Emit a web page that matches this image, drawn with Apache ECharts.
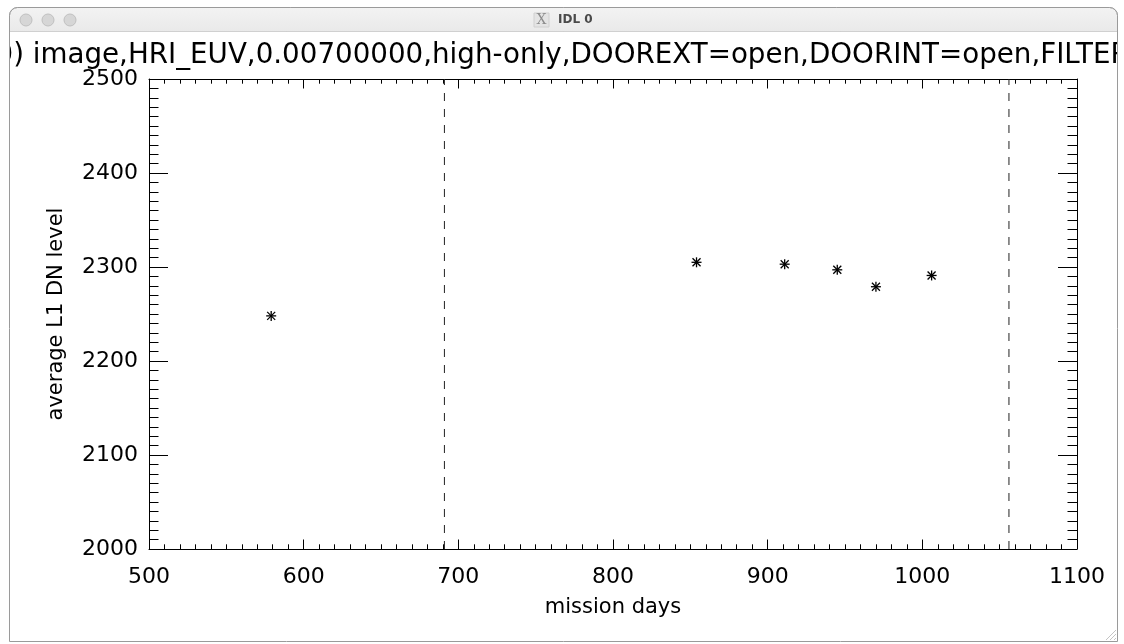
<!DOCTYPE html>
<html>
<head>
<meta charset="utf-8">
<title>IDL 0</title>
<script src="https://cdn.jsdelivr.net/npm/echarts@6/dist/echarts.min.js"></script>
<style>
  html, body { margin: 0; padding: 0; background: #ffffff; }
  #chart { width: 1124px; height: 644px; }
</style>
</head>
<body>
<div id="chart"></div>
<script>
// Mission day of each L1 image and its average DN level
const missionDays = [579, 854, 911, 945, 970, 1006];
const avgDN = [2248, 2305, 2303, 2297, 2279, 2291];

// Dashed reference days
const markerDays = [691, 1056];

// Axis ranges and tick steps
const xRange = [500, 1100];
const xStep = 100;
const yRange = [2000, 2500];
const yStep = 100;

const plotTitle = '0) image,HRI_EUV,0.00700000,high-only,DOOREXT=open,DOORINT=open,FILTER';
const xTitle = 'mission days';
const yTitle = 'average L1 DN level';
const windowTitle = 'IDL 0';

const FONT = '"DejaVu Sans", "Liberation Sans", sans-serif';
const INK = '#000000';

const chart = echarts.init(document.getElementById('chart'), null, { renderer: 'canvas' });

const points = missionDays.map((d, i) => [d, avgDN[i]]);
const plain = v => String(v);

// IDL-style asterisk: a "+" and an "x" overlaid
function renderStar(params, api) {
  const c = api.coord([api.value(0), api.value(1)]);
  const r = 5;
  const d = r * 0.8;
  const st = { stroke: INK, lineWidth: 1.3 };
  const seg = (x1, y1, x2, y2) => ({ type: 'line', shape: { x1, y1, x2, y2 }, style: st });
  return {
    type: 'group',
    children: [
      seg(c[0] - r, c[1], c[0] + r, c[1]),
      seg(c[0], c[1] - r, c[0], c[1] + r),
      seg(c[0] - d, c[1] - d, c[0] + d, c[1] + d),
      seg(c[0] - d, c[1] + d, c[0] + d, c[1] - d)
    ]
  };
}

const baseX = {
  type: 'value', min: xRange[0], max: xRange[1], interval: xStep,
  axisLine: { show: true, onZero: false, lineStyle: { color: INK, width: 1 } },
  axisTick: { show: true, inside: true, length: 9.5, lineStyle: { color: INK, width: 1 } },
  minorTick: { show: true, splitNumber: 10, length: 4.7, lineStyle: { color: INK, width: 1 } },
  splitLine: { show: false }, minorSplitLine: { show: false }
};
const baseY = {
  type: 'value', min: yRange[0], max: yRange[1], interval: yStep,
  axisLine: { show: true, onZero: false, lineStyle: { color: INK, width: 1 } },
  axisTick: { show: true, inside: true, length: 19, lineStyle: { color: INK, width: 1 } },
  minorTick: { show: true, splitNumber: 10, length: 9.5, lineStyle: { color: INK, width: 1 } },
  splitLine: { show: false }, minorSplitLine: { show: false }
};

const option = {
  backgroundColor: '#ffffff',
  animation: false,
  grid: { left: 149, right: 47, top: 79, bottom: 95, containLabel: false },
  xAxis: [
    Object.assign({}, baseX, {
      position: 'bottom',
      name: xTitle, nameLocation: 'middle', nameGap: 48,
      nameTextStyle: { color: INK, fontFamily: FONT, fontSize: 21 },
      axisLabel: { show: true, margin: 17, color: INK, fontFamily: FONT, fontSize: 22, formatter: plain }
    }),
    Object.assign({}, baseX, { position: 'top', axisLabel: { show: false } })
  ],
  yAxis: [
    Object.assign({}, baseY, {
      position: 'left',
      name: yTitle, nameLocation: 'middle', nameGap: 82, nameRotate: 90,
      nameTextStyle: { color: INK, fontFamily: FONT, fontSize: 21 },
      axisLabel: { show: true, margin: 11, color: INK, fontFamily: FONT, fontSize: 22, formatter: plain }
    }),
    Object.assign({}, baseY, { position: 'right', axisLabel: { show: false } })
  ],
  series: [
    ...markerDays.map(d => ({
      type: 'line',
      xAxisIndex: 0, yAxisIndex: 0,
      data: [[d, yRange[0]], [d, yRange[1]]],
      symbol: 'none',
      silent: true,
      lineStyle: { color: '#222222', width: 1, type: [8, 8] },
      z: 2
    })),
    {
      type: 'custom',
      xAxisIndex: 0, yAxisIndex: 0,
      data: points,
      renderItem: renderStar,
      encode: { x: 0, y: 1 },
      z: 3
    }
  ],
  graphic: [
    // plot title, clipped by the window frame
    {
      type: 'text', x: -4.5, y: 70, scaleX: 0.956, z: 10,
      style: { text: plotTitle, fill: INK, font: '29px ' + FONT, textAlign: 'left', textVerticalAlign: 'bottom' }
    },
    // blank margins outside the window frame
    { type: 'rect', shape: { x: 0, y: 0, width: 9, height: 644 }, style: { fill: '#ffffff' }, z: 20 },
    { type: 'rect', shape: { x: 1118, y: 0, width: 6, height: 644 }, style: { fill: '#ffffff' }, z: 20 },
    { type: 'rect', shape: { x: 0, y: 0, width: 1124, height: 8 }, style: { fill: '#ffffff' }, z: 20 },
    // title bar
    {
      type: 'rect', z: 21,
      shape: { x: 9.5, y: 7.5, width: 1108, height: 24, r: [8, 8, 0, 0] },
      style: {
        fill: new echarts.graphic.LinearGradient(0, 0, 0, 1, [
          { offset: 0, color: '#f3f3f3' }, { offset: 1, color: '#e9e9e9' }
        ]),
        stroke: '#b9b9b9', lineWidth: 1
      }
    },
    { type: 'line', z: 22, shape: { x1: 9.5, y1: 31.5, x2: 1117.5, y2: 31.5 }, style: { stroke: '#d0d0d0', lineWidth: 1 } },
    // window buttons
    ...[26, 48, 70].map(cx => ({
      type: 'circle', z: 22, shape: { cx, cy: 20, r: 6 },
      style: { fill: '#d6d6d6', stroke: '#c0c0c0', lineWidth: 1 }
    })),
    // X11 icon and window name
    { type: 'rect', z: 22, shape: { x: 534, y: 13, width: 15, height: 14 }, style: { fill: '#e4e4e4', stroke: '#d0d0d0', lineWidth: 1 } },
    {
      type: 'text', z: 23, x: 541.5, y: 20.5,
      style: { text: 'X', fill: '#8c8c8c', font: '14px "DejaVu Serif", serif', textAlign: 'center', textVerticalAlign: 'middle' }
    },
    {
      type: 'text', z: 23, x: 558, y: 20,
      style: { text: windowTitle, fill: '#4a4a4a', font: 'bold 12px ' + FONT, textAlign: 'left', textVerticalAlign: 'middle' }
    },
    // window frame
    {
      type: 'rect', z: 24,
      shape: { x: 9.5, y: 7.5, width: 1108, height: 634, r: [8, 8, 0, 0] },
      style: { fill: 'none', stroke: '#9a9a9a', lineWidth: 1 }
    },
    // resize grip
    { type: 'line', z: 24, shape: { x1: 1106, y1: 640, x2: 1116, y2: 630 }, style: { stroke: '#c4c4c4', lineWidth: 1 } },
    { type: 'line', z: 24, shape: { x1: 1110, y1: 640, x2: 1116, y2: 634 }, style: { stroke: '#c4c4c4', lineWidth: 1 } },
    { type: 'line', z: 24, shape: { x1: 1114, y1: 640, x2: 1116, y2: 638 }, style: { stroke: '#c4c4c4', lineWidth: 1 } }
  ]
};

chart.setOption(option);
</script>
</body>
</html>
